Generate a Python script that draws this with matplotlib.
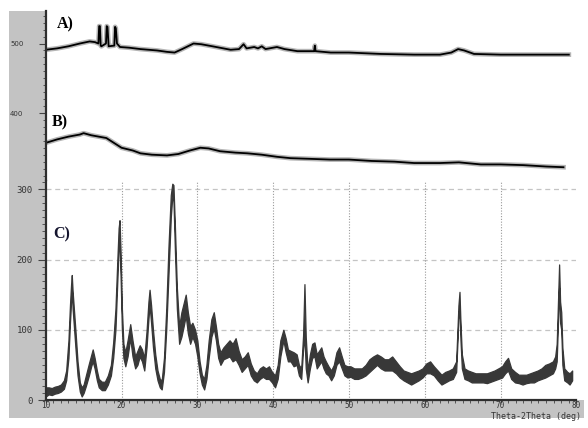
import numpy as np
import matplotlib.pyplot as plt
from matplotlib.patches import Rectangle
from matplotlib.ticker import MultipleLocator

# ---- pattern C (bottom panel): angle, lower / upper edge of the noisy trace
c_angle = [10.0, 10.4, 10.8, 11.2, 11.6, 12.0, 12.4, 12.7, 13.0, 13.2, 13.35, 13.44, 13.55, 13.75, 13.95,
           14.2, 14.5, 14.75, 15.0, 15.3, 15.7, 16.0, 16.2, 16.45, 16.75, 17.0, 17.4, 17.8, 18.2, 18.6,
           18.9, 19.2, 19.45, 19.62, 19.74, 19.88, 20.05, 20.25, 20.5, 20.8, 21.15, 21.45, 21.8, 22.1, 22.4,
           22.7, 23.0, 23.3, 23.55, 23.7, 23.9, 24.15, 24.45, 24.75, 25.05, 25.3, 25.6, 25.9, 26.2, 26.5,
           26.7, 26.85, 27.05, 27.3, 27.6, 27.9, 28.2, 28.47, 28.75, 29.05, 29.35, 29.7, 30.0, 30.3, 30.6,
           30.9, 31.2, 31.5, 31.85, 32.17, 32.45, 32.75, 33.05, 33.45, 33.85, 34.25, 34.65, 35.05, 35.45, 35.85,
           36.25, 36.65, 37.05, 37.45, 37.85, 38.25, 38.65, 39.05, 39.45, 39.85, 40.25, 40.6, 40.95, 41.35, 41.65,
           41.95, 42.3, 42.7, 43.1, 43.4, 43.7, 43.95, 44.13, 44.3, 44.55, 44.85, 45.15, 45.45, 45.75, 46.05,
           46.35, 46.65, 46.95, 47.3, 47.65, 48.0, 48.35, 48.7, 49.05, 49.4, 49.8, 50.2, 50.7, 51.2, 51.7,
           52.2, 52.7, 53.2, 53.7, 54.2, 54.7, 55.2, 55.7, 56.2, 56.7, 57.2, 57.7, 58.2, 58.7, 59.2,
           59.7, 60.2, 60.7, 61.2, 61.7, 62.2, 62.7, 63.2, 63.7, 64.14, 64.44, 64.58, 64.71, 64.89, 65.24,
           65.7, 66.2, 66.7, 67.2, 67.7, 68.2, 68.7, 69.2, 69.7, 70.2, 70.6, 70.98, 71.4, 71.9, 72.4,
           72.9, 73.4, 73.9, 74.4, 74.9, 75.4, 75.9, 76.4, 76.9, 77.2, 77.4, 77.6, 77.72, 77.85, 78.0,
           78.15, 78.4, 78.8, 79.1, 79.44]
c_low = [5, 8, 7, 9, 10, 12, 16, 28, 60, 110, 140, 160, 130, 100, 70,
         35, 12, 5, 10, 20, 35, 48, 55, 45, 28, 18, 14, 14, 22, 35,
         60, 100, 170, 215, 225, 175, 100, 60, 48, 62, 88, 62, 45, 50, 62,
         55, 42, 75, 115, 135, 110, 75, 45, 28, 18, 15, 40, 100, 180, 260,
         290, 285, 210, 130, 80, 90, 105, 120, 95, 80, 90, 80, 62, 38, 22,
         15, 30, 60, 90, 102, 85, 60, 50, 58, 60, 62, 55, 58, 50, 40,
         45, 50, 35, 28, 25, 30, 33, 30, 30, 25, 18, 30, 62, 85, 68,
         55, 55, 48, 50, 35, 30, 72, 90, 45, 25, 45, 60, 62, 45, 50,
         55, 45, 38, 35, 28, 35, 50, 55, 45, 35, 32, 33, 30, 30, 32,
         35, 40, 45, 50, 45, 42, 42, 42, 38, 32, 28, 25, 22, 25, 28,
         32, 38, 38, 35, 28, 22, 25, 28, 30, 40, 115, 135, 85, 45, 30,
         28, 25, 25, 25, 25, 24, 26, 28, 30, 32, 38, 42, 30, 25, 24,
         22, 24, 25, 25, 28, 30, 32, 35, 38, 45, 55, 120, 160, 110, 100,
         50, 28, 25, 22, 28]
c_high = [18, 18, 17, 19, 20, 22, 28, 42, 85, 135, 165, 178, 155, 125, 95,
          55, 25, 18, 22, 35, 52, 64, 72, 60, 42, 30, 26, 26, 35, 50,
          82, 130, 200, 245, 256, 210, 130, 80, 68, 85, 108, 85, 62, 70, 78,
          72, 60, 98, 140, 157, 135, 100, 65, 42, 30, 28, 60, 130, 220, 292,
          308, 306, 245, 160, 105, 125, 138, 150, 125, 105, 110, 100, 85, 55, 36,
          30, 50, 85, 115, 125, 105, 80, 68, 75, 80, 85, 80, 88, 70, 58,
          62, 68, 52, 42, 38, 45, 48, 45, 48, 40, 35, 50, 85, 100, 88,
          72, 70, 68, 65, 50, 45, 92, 165, 90, 42, 65, 80, 82, 65, 70,
          75, 62, 55, 48, 42, 50, 68, 75, 62, 50, 48, 48, 45, 45, 45,
          50, 58, 62, 65, 62, 58, 58, 62, 55, 48, 42, 40, 38, 40, 42,
          45, 52, 55, 48, 42, 36, 40, 42, 45, 55, 135, 154, 110, 65, 45,
          42, 40, 38, 38, 38, 38, 40, 42, 45, 48, 55, 60, 45, 40, 36,
          36, 36, 38, 40, 42, 45, 50, 52, 55, 62, 80, 150, 193, 140, 125,
          75, 45, 40, 38, 42]

# ---- pattern A (top trace, upper panel)
a_angle = [10.0, 11.5, 13.0, 14.5, 15.8, 16.5, 16.95, 17.05, 17.15, 17.25, 17.35, 17.95, 18.05, 18.15,
           18.3, 19.05, 19.15, 19.25, 19.4, 19.8, 21.0, 22.5, 24.7, 26.0, 27.0, 28.0, 29.5, 30.5,
           32.0, 34.4, 35.5, 36.1, 36.5, 37.5, 38.0, 38.5, 39.0, 40.5, 41.5, 43.2, 45.4, 45.5,
           45.6, 47.6, 50.0, 54.2, 58.6, 62.0, 63.5, 64.4, 65.2, 66.5, 70.0, 72.0, 75.0, 79.0]
a_count = [491, 493, 496, 500, 503, 502, 500, 525, 525, 497, 496, 500, 525, 524,
           496, 497, 524, 522, 500, 495, 494, 492, 490, 488, 487, 492, 500, 499,
           496, 491, 492, 499, 493, 495, 493, 496, 492, 495, 492, 489, 489, 497,
           489, 487, 487, 485, 484, 484, 487, 492, 490, 485, 484, 484, 484, 484]

# ---- pattern B (lower trace, upper panel)
b_angle = [10.0, 11.5, 13.0, 14.5, 15.0, 16.0, 17.0, 18.0, 19.0, 20.0, 21.5, 22.5, 24.0, 26.0,
           27.5, 29.0, 30.4, 31.5, 33.0, 35.0, 36.6, 38.5, 40.5, 42.3, 45.0, 47.5, 50.0, 53.0,
           56.0, 58.6, 62.0, 64.5, 67.4, 70.0, 73.0, 76.0, 78.3]
b_count = [357, 362, 366, 369, 371, 368, 366, 364, 357, 350, 346, 342, 340, 339,
           341, 346, 350, 349, 345, 343, 342, 340, 337, 335, 334, 333, 333, 331,
           330, 328, 328, 329, 326, 326, 325, 323, 322]

x_ticks = [10, 20, 30, 40, 50, 60, 70, 80]
c_yticks = [0, 100, 200, 300]
ab_yticks = [400, 500]

W, H = 588, 428
GRAY = '#c3c3c3'
DARK = '#2e2e2e'


def rect(l, t, r, b):
    return [l / W, 1 - b / H, (r - l) / W, (b - t) / H]


fig = plt.figure(figsize=(W / 100, H / 100), dpi=100)

# grey frame strips (left and bottom)
fig.add_artist(Rectangle((9 / W, 1 - 418 / H), (46 - 9) / W, (418 - 11) / H,
                         transform=fig.transFigure, color=GRAY, lw=0, zorder=-1))
fig.add_artist(Rectangle((9 / W, 1 - 418 / H), (584 - 9) / W, 18 / H,
                         transform=fig.transFigure, color=GRAY, lw=0, zorder=-1))

# ---------- upper panel (A and B)
ax1 = fig.add_axes(rect(45.7, 11, 576.4, 180))
ax1.set_facecolor('none')
ax1.set_xlim(10, 80)
ax1.set_ylim(303.6, 546.8)
for s in ['top', 'right', 'bottom']:
    ax1.spines[s].set_visible(False)
ax1.spines['left'].set_color(DARK)
ax1.spines['left'].set_linewidth(1.6)
ax1.xaxis.set_visible(False)
ax1.set_yticks(ab_yticks)
ax1.yaxis.set_minor_locator(MultipleLocator(10))
ax1.tick_params(axis='y', which='major', length=5, width=0.8, color='#444444',
                pad=11, labelsize=5, labelcolor='#333333')
ax1.tick_params(axis='y', which='minor', length=2.5, width=0.7, color='#555555')

for ang, cnt in [(a_angle, a_count), (b_angle, b_count)]:
    ax1.plot(ang, cnt, color='#b5b5b5', lw=3.4, solid_joinstyle='round')
    ax1.plot(ang, cnt, color='black', lw=1.3)

# ---------- lower panel (C)
ax2 = fig.add_axes(rect(45.7, 181, 576.4, 400))
ax2.set_facecolor('none')
ax2.set_xlim(10, 80)
ax2.set_ylim(0, 311.8)
for s in ['top', 'right']:
    ax2.spines[s].set_visible(False)
for s in ['left', 'bottom']:
    ax2.spines[s].set_color(DARK)
    ax2.spines[s].set_linewidth(1.6)

ax2.set_xticks(x_ticks)
ax2.set_yticks(c_yticks)
ax2.xaxis.set_minor_locator(MultipleLocator(1))
ax2.yaxis.set_minor_locator(MultipleLocator(10))
ax2.tick_params(axis='y', which='major', length=6, width=0.8, color='#444444',
                pad=3.5, labelsize=6.5, labelcolor='#333333')
ax2.tick_params(axis='y', which='minor', length=3, width=0.7, color='#555555')
ax2.tick_params(axis='x', which='major', length=2.5, width=0.8, color='#444444',
                pad=-1.5, labelsize=5.5, labelcolor='#333333')
ax2.tick_params(axis='x', which='minor', length=2, width=0.7, color='#555555')
for lab in ax2.get_xticklabels() + ax2.get_yticklabels():
    lab.set_family('DejaVu Sans Mono')

for yv in c_yticks[1:]:
    ax2.axhline(yv, color='#c4c4c4', lw=0.9, ls=(0, (4, 3)), zorder=0)
ax2.vlines(x_ticks[1:-1], 0, 311.8, color='#9a9a9a', lw=0.8, ls=(0, (1, 1.5)), zorder=0)

ax2.fill_between(c_angle, c_low, c_high, color='#383838', lw=0.9, edgecolor='#383838')

fig.text(581 / W, 1 - 419 / H, 'Theta-2Theta (deg)', ha='right', va='baseline',
         fontsize=6, family='DejaVu Sans Mono', color='#333333')

# panel labels
lab_kw = dict(fontsize=11.5, fontweight='bold', family='Liberation Serif', va='baseline')
fig.text(57 / W, 1 - 28 / H, 'A)', color='black', **lab_kw)
fig.text(52 / W, 1 - 126 / H, 'B)', color='black', **lab_kw)
fig.text(53 / W, 1 - 238 / H, 'C)', color='#15152e', **lab_kw)

fig.savefig('out.png', dpi=100)
